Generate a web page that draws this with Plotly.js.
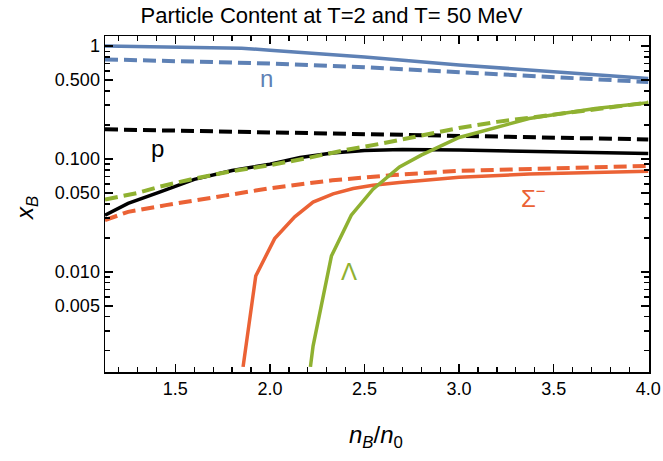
<!DOCTYPE html>
<html>
<head>
<meta charset="utf-8">
<script src="https://cdn.plot.ly/plotly-3.0.1.min.js"></script>
<style>html,body{margin:0;padding:0;background:#fff;}#chart{width:663px;height:461px;}</style>
</head>
<body>
<div id="chart"></div>
<script>
// neutron n
const nSolidX = [1.128, 1.5, 1.85, 2.0, 2.5, 3.0, 3.5, 4.0];
const nSolidY = [1.0, 0.98, 0.955, 0.92, 0.80, 0.68, 0.59, 0.515];
const nDashX = [1.128, 1.5, 2.0, 2.5, 3.0, 3.5, 4.0];
const nDashY = [0.762, 0.74, 0.70, 0.65, 0.59, 0.535, 0.48];
// proton p
const pSolidX = [1.128, 1.25, 1.42, 1.6, 1.8, 2.0, 2.16, 2.33, 2.5, 2.7, 3.0, 3.5, 4.0];
const pSolidY = [0.0318, 0.0404, 0.051, 0.066, 0.079, 0.09, 0.103, 0.113, 0.119, 0.121, 0.12, 0.116, 0.112];
const pDashX = [1.128, 1.5, 2.0, 2.5, 3.0, 3.5, 4.0];
const pDashY = [0.183, 0.178, 0.172, 0.166, 0.16, 0.154, 0.149];
// Sigma minus
const sSolidX = [1.858, 1.925, 2.025, 2.131, 2.228, 2.334, 2.44, 2.545, 2.685, 2.85, 3.0, 3.37, 3.7, 4.0];
const sSolidY = [0.00144, 0.0092, 0.0197, 0.0307, 0.0415, 0.049, 0.0547, 0.0586, 0.062, 0.066, 0.069, 0.0735, 0.076, 0.078];
const sDashX = [1.128, 1.25, 1.45, 1.6, 1.8, 2.0, 2.33, 2.65, 3.0, 3.5, 4.0];
const sDashY = [0.0287, 0.034, 0.039, 0.043, 0.049, 0.055, 0.0648, 0.072, 0.0785, 0.083, 0.0868];
// Lambda
const lSolidX = [2.214, 2.228, 2.325, 2.43, 2.545, 2.685, 2.8, 3.0, 3.37, 3.72, 4.0];
const lSolidY = [0.00144, 0.0022, 0.0138, 0.0318, 0.054, 0.085, 0.108, 0.155, 0.228, 0.28, 0.314];
const lDashX = [1.128, 1.3, 1.42, 1.6, 1.8, 2.0, 2.2, 2.4, 2.6, 2.8, 3.0, 3.2, 3.6, 4.0];
const lDashY = [0.0436, 0.050, 0.057, 0.067, 0.078, 0.088, 0.102, 0.12, 0.138, 0.16, 0.188, 0.213, 0.262, 0.316];

const xTickVals = [1.5, 2.0, 2.5, 3.0, 3.5, 4.0];
const xTickText = ['1.5', '2.0', '2.5', '3.0', '3.5', '4.0'];
const yTickVals = [0.005, 0.01, 0.05, 0.1, 0.5, 1];
const yTickText = ['0.005', '0.010', '0.050', '0.100', '0.500', '1'];

const BLUE = '#5E81B5', ORANGE = '#EB6235', GREEN = '#8FB131', BLACK = '#000000';
const DASH = '13px,6px';
const X_RANGE = [1.128, 4.004];
const Y_RANGE_LOG = [-2.887, 0.089];

function tr(x, y, color, width, dash) {
  return {x: x, y: y, type: 'scatter', mode: 'lines',
    line: {color: color, width: width, dash: dash || 'solid'}};
}

const data = [
  tr(nSolidX, nSolidY, BLUE, 3.5),
  tr(nDashX, nDashY, BLUE, 4, DASH),
  tr(pDashX, pDashY, BLACK, 4, DASH),
  tr(pSolidX, pSolidY, BLACK, 3.5),
  tr(sSolidX, sSolidY, ORANGE, 3.5),
  tr(sDashX, sDashY, ORANGE, 4, DASH),
  tr(lSolidX, lSolidY, GREEN, 3.5),
  tr(lDashX, lDashY, GREEN, 4, DASH)
];

const FONT = 'Liberation Sans, Arial, sans-serif';
const tickFont = {family: FONT, size: 18, color: '#000'};

const layout = {
  width: 663, height: 461,
  margin: {l: 105, r: 14, t: 36, b: 89},
  showlegend: false,
  title: {text: 'Particle Content at T=2 and T= 50 MeV', x: 0.5, xref: 'container', xanchor: 'center',
    y: 0.984, yref: 'container', yanchor: 'top',
    font: {family: FONT, size: 22, color: '#000'}},
  xaxis: {
    range: X_RANGE, showgrid: false, zeroline: false,
    showline: true, linecolor: '#000', linewidth: 1.5, mirror: 'allticks',
    ticks: 'inside', ticklen: 8, tickwidth: 1.5, tickcolor: '#000',
    tickmode: 'array', tickvals: xTickVals, ticktext: xTickText, tickfont: tickFont,
    minor: {ticks: 'inside', ticklen: 5, tickwidth: 1.3, tickcolor: '#000', dtick: 0.1, tick0: 1.0, showgrid: false}
  },
  yaxis: {
    type: 'log', range: Y_RANGE_LOG, showgrid: false, zeroline: false,
    showline: true, linecolor: '#000', linewidth: 1.5, mirror: 'allticks',
    ticks: 'inside', ticklen: 8, tickwidth: 1.5, tickcolor: '#000',
    tickmode: 'array', tickvals: yTickVals, ticktext: yTickText, tickfont: tickFont,
    minor: {ticks: 'inside', ticklen: 5, tickwidth: 1.3, tickcolor: '#000', dtick: 'D1', showgrid: false}
  },
  annotations: [
    {text: 'n', x: 1.983, y: -0.285, xref: 'x', yref: 'y', showarrow: false, xanchor: 'center', yanchor: 'middle',
      font: {family: FONT, size: 24, color: BLUE}},
    {text: 'p', x: 1.408, y: -0.904, xref: 'x', yref: 'y', showarrow: false, xanchor: 'center', yanchor: 'middle',
      font: {family: FONT, size: 24, color: BLACK}},
    {text: 'Σ<sup>−</sup>', x: 3.393, y: -1.339, xref: 'x', yref: 'y', showarrow: false, xanchor: 'center', yanchor: 'middle',
      font: {family: FONT, size: 24, color: ORANGE}},
    {text: 'Λ', x: 2.416, y: -1.995, xref: 'x', yref: 'y', showarrow: false, xanchor: 'center', yanchor: 'middle',
      font: {family: FONT, size: 24, color: GREEN}},
    {text: '<i>n</i><sub><i>B</i></sub>/<i>n</i><sub>0</sub>', x: (376 - 105) / 544, y: -(436 - 372) / 336,
      xref: 'paper', yref: 'paper', showarrow: false, xanchor: 'center', yanchor: 'middle',
      font: {family: FONT, size: 24, color: '#000'}},
    {text: '<i>x</i><sub><i>B</i></sub>', textangle: -90, x: -(105 - 26) / 544, y: (372 - 208) / 336,
      xref: 'paper', yref: 'paper', showarrow: false, xanchor: 'center', yanchor: 'middle',
      font: {family: FONT, size: 24, color: '#000'}}
  ]
};

Plotly.newPlot('chart', data, layout, {displayModeBar: false, staticPlot: true});
</script>
</body>
</html>
